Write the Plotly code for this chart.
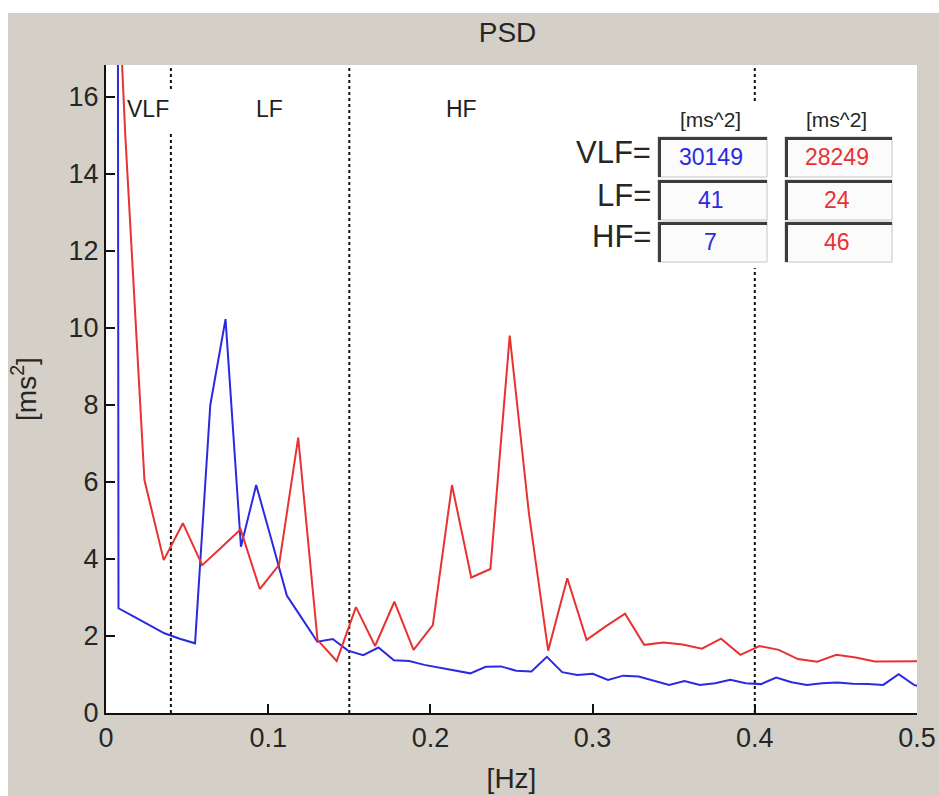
import plotly.graph_objects as go

# ---- spectra (frequency in Hz, power spectral density in ms^2) ----
freq_1 = [-0.0017, 0.0077, 0.0172, 0.0266, 0.0360, 0.0455, 0.0549, 0.0643, 0.0737,
          0.0832, 0.0926, 0.1020, 0.1115, 0.1209, 0.1303, 0.1398, 0.1492, 0.1586,
          0.1680, 0.1775, 0.1869, 0.1963, 0.2058, 0.2152, 0.2246, 0.2341, 0.2435,
          0.2529, 0.2623, 0.2718, 0.2812, 0.2906, 0.3001, 0.3095, 0.3189, 0.3284,
          0.3378, 0.3472, 0.3566, 0.3661, 0.3755, 0.3849, 0.3944, 0.4038, 0.4132,
          0.4227, 0.4321, 0.4415, 0.4509, 0.4604, 0.4698, 0.4792, 0.4887, 0.4981,
          0.5075]
psd_1 = [400.0, 2.72, 2.50, 2.28, 2.07, 1.93, 1.81, 8.0, 10.23,
         4.32, 5.92, 4.5, 3.05, 2.45, 1.85, 1.92, 1.62, 1.50,
         1.70, 1.37, 1.35, 1.25, 1.18, 1.10, 1.03, 1.20, 1.21,
         1.10, 1.08, 1.46, 1.06, 0.99, 1.02, 0.86, 0.97, 0.95,
         0.84, 0.73, 0.83, 0.73, 0.77, 0.86, 0.77, 0.75, 0.92,
         0.80, 0.73, 0.77, 0.79, 0.76, 0.75, 0.73, 1.01, 0.73,
         0.62]

freq_2 = [0.0, 0.0119, 0.0237, 0.0356, 0.0474, 0.0593, 0.0711, 0.0830, 0.0948,
          0.1067, 0.1185, 0.1304, 0.1422, 0.1541, 0.1659, 0.1778, 0.1896, 0.2015,
          0.2133, 0.2252, 0.2370, 0.2489, 0.2607, 0.2726, 0.2844, 0.2963, 0.3081,
          0.3200, 0.3318, 0.3437, 0.3555, 0.3674, 0.3792, 0.3911, 0.4029, 0.4148,
          0.4266, 0.4385, 0.4503, 0.4622, 0.4740, 0.4859, 0.4977, 0.5096]
psd_2 = [26.0, 15.0, 6.05, 3.97, 4.93, 3.84, 4.3, 4.77, 3.22,
         3.85, 7.15, 1.9, 1.35, 2.75, 1.74, 2.89, 1.64, 2.28,
         5.92, 3.52, 3.74, 9.8, 5.2, 1.62, 3.5, 1.9, 2.25,
         2.58, 1.77, 1.83, 1.78, 1.67, 1.93, 1.51, 1.74, 1.64,
         1.40, 1.33, 1.51, 1.44, 1.34, 1.35, 1.35, 1.35]

# ---- frequency bands ----
band_edges = [0.04, 0.15, 0.40]
band_names = ["VLF", "LF", "HF"]
band_label_x = [0.026, 0.101, 0.219]
band_label_y = 15.7

# band powers shown in the table
power_1 = [30149, 41, 7]
power_2 = [28249, 24, 46]
power_unit = "[ms^2]"

x_ticks = [0, 0.1, 0.2, 0.3, 0.4, 0.5]
x_ticktext = ["0", "0.1", "0.2", "0.3", "0.4", "0.5"]
y_ticks = [0, 2, 4, 6, 8, 10, 12, 14, 16]

COL_1 = "#2a2ae0"
COL_2 = "#e83232"
BG = "#d4d0c8"
FONT = "Liberation Sans, Arial, sans-serif"

W, H = 939, 796
L, R, T, B = 106, 22, 65, 83
PW, PH = W - L - R, H - T - B


def px_x(px):
    return (px - L) / PW


def px_y(py):
    return (H - B - py) / PH


fig = go.Figure()
fig.add_trace(go.Scatter(x=freq_1, y=psd_1, mode="lines",
                         line=dict(color=COL_1, width=2), showlegend=False))
fig.add_trace(go.Scatter(x=freq_2, y=psd_2, mode="lines",
                         line=dict(color=COL_2, width=2), showlegend=False))

shapes = []
# white strip round the grey figure panel
shapes.append(dict(type="rect", xref="paper", yref="paper", x0=px_x(-20), x1=px_x(W + 20),
                   y0=px_y(13), y1=px_y(-20), fillcolor="white", line=dict(width=0),
                   layer="below"))
shapes.append(dict(type="rect", xref="paper", yref="paper", x0=px_x(-20), x1=px_x(8),
                   y0=px_y(H + 20), y1=px_y(-20), fillcolor="white", line=dict(width=0),
                   layer="below"))
# band boundaries
for edge in band_edges:
    shapes.append(dict(type="line", xref="x", yref="paper", x0=edge, x1=edge, y0=0, y1=1,
                       line=dict(color="#111111", width=2, dash="dot"), layer="below"))
# white backing behind the VLF label and the power table
shapes.append(dict(type="rect", xref="paper", yref="paper", x0=px_x(129), x1=px_x(180),
                   y0=px_y(133), y1=px_y(90), fillcolor="white", line=dict(width=0),
                   layer="below"))
shapes.append(dict(type="rect", xref="paper", yref="paper", x0=px_x(560), x1=px_x(905),
                   y0=px_y(268), y1=px_y(103), fillcolor="white", line=dict(width=0),
                   layer="below"))

# sunken edit boxes of the table
col_left = [658, 785]
col_right = [767, 892]
row_top = [137, 180, 222]
box_h = 40
annotations = []
for r in range(3):
    top = row_top[r]
    bot = top + box_h
    for c in range(2):
        x0, x1 = col_left[c], col_right[c]
        shapes.append(dict(type="rect", xref="paper", yref="paper",
                           x0=px_x(x0), x1=px_x(x1), y0=px_y(bot), y1=px_y(top),
                           fillcolor="#fbfbfb", line=dict(color="#c4c4c4", width=1)))
        shapes.append(dict(type="line", xref="paper", yref="paper",
                           x0=px_x(x0), x1=px_x(x1), y0=px_y(top + 1.5), y1=px_y(top + 1.5),
                           line=dict(color="#3c3c3c", width=3)))
        shapes.append(dict(type="line", xref="paper", yref="paper",
                           x0=px_x(x0 + 1.5), x1=px_x(x0 + 1.5), y0=px_y(bot), y1=px_y(top),
                           line=dict(color="#3c3c3c", width=3)))
        val = power_1[r] if c == 0 else power_2[r]
        annotations.append(dict(xref="paper", yref="paper", x=px_x((x0 + x1) / 2 - 2),
                                y=px_y(top + 20), text=str(val), showarrow=False,
                                xanchor="center", yanchor="middle",
                                font=dict(family=FONT, size=23,
                                          color=COL_1 if c == 0 else COL_2)))
    annotations.append(dict(xref="paper", yref="paper", x=px_x(653), y=px_y(top + 15),
                            text=band_names[r] + "=", showarrow=False,
                            xanchor="right", yanchor="middle",
                            font=dict(family=FONT, size=31, color="#262626")))
for c in range(2):
    annotations.append(dict(xref="paper", yref="paper",
                            x=px_x((col_left[c] + col_right[c]) / 2 - 2), y=px_y(119),
                            text=power_unit, showarrow=False, xanchor="center",
                            yanchor="middle",
                            font=dict(family=FONT, size=21, color="#262626")))

# band names
for name, bx in zip(band_names, band_label_x):
    annotations.append(dict(xref="x", yref="y", x=bx, y=band_label_y, text=name,
                            showarrow=False, xanchor="center", yanchor="middle",
                            font=dict(family=FONT, size=23, color="#1e1e1e")))

fig.update_layout(
    width=W, height=H,
    margin=dict(l=L, r=R, t=T, b=B, autoexpand=False),
    paper_bgcolor=BG, plot_bgcolor="white",
    font=dict(family=FONT, color="#262626"),
    title=dict(text="PSD", x=px_x((L + W - R) / 2 - 4), xref="paper", xanchor="center",
               y=1 - 32 / H, yref="container", yanchor="middle",
               font=dict(family=FONT, size=28, color="#262626")),
    shapes=shapes, annotations=annotations,
    showlegend=False,
)
fig.update_xaxes(range=[0, 0.5], tickvals=x_ticks, ticktext=x_ticktext,
                 ticks="inside", ticklen=9, tickwidth=2, tickcolor="#111111",
                 showline=True, linecolor="#111111", linewidth=2,
                 showgrid=False, zeroline=False,
                 tickfont=dict(family=FONT, size=27, color="#262626"),
                 title=dict(text="[Hz]", standoff=16,
                            font=dict(family=FONT, size=28, color="#262626")))
fig.update_yaxes(range=[0, 16.83], tickvals=y_ticks,
                 ticks="inside", ticklen=9, tickwidth=2, tickcolor="#111111",
                 showline=True, linecolor="#111111", linewidth=2,
                 showgrid=False, zeroline=False,
                 tickfont=dict(family=FONT, size=27, color="#262626"),
                 title=dict(text="[ms<sup>2</sup>]", standoff=24,
                            font=dict(family=FONT, size=28, color="#262626")))

fig.write_html("out.html")
